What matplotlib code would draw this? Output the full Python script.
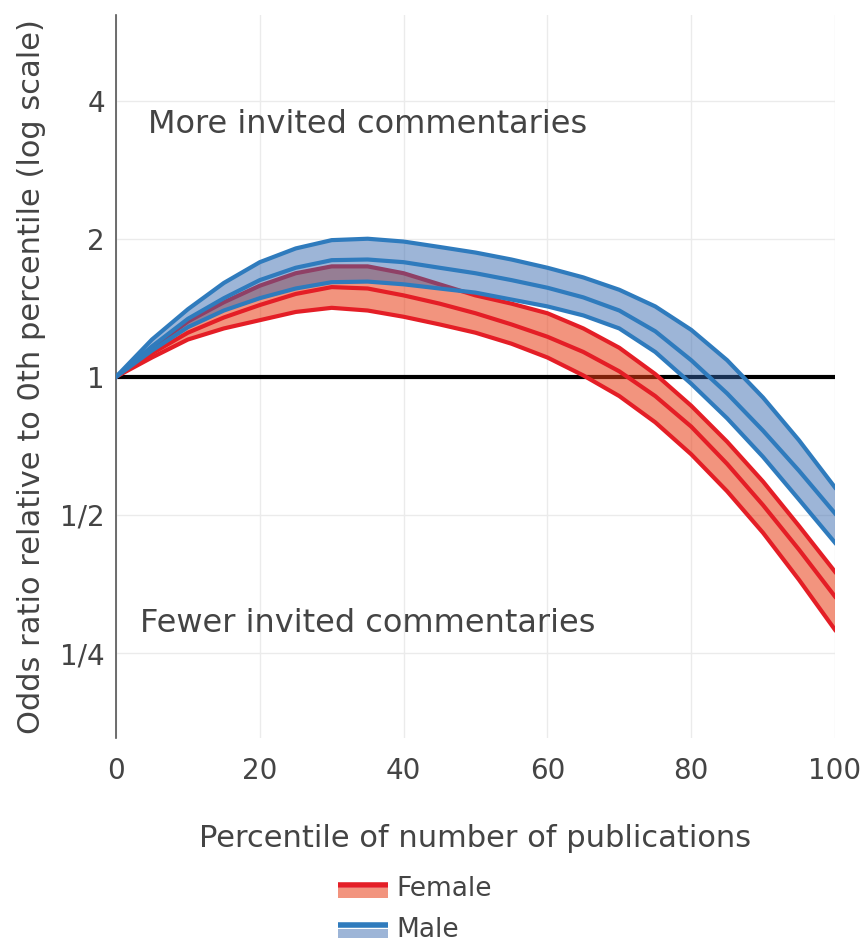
import matplotlib
matplotlib.use("Agg")
import matplotlib.pyplot as plt
from matplotlib.legend_handler import HandlerBase
from matplotlib.lines import Line2D
from matplotlib.patches import Rectangle, Patch

# ---------------------------------------------------------------------
# Data (odds ratio relative to 0th percentile)
# ---------------------------------------------------------------------
PCT = [0, 5, 10, 15, 20, 25, 30, 35, 40, 45, 50,
       55, 60, 65, 70, 75, 80, 85, 90, 95, 100]

FEMALE_UPPER = [1.000, 1.157, 1.320, 1.454, 1.580, 1.682, 1.741, 1.741, 1.682, 1.591, 1.505,
                1.444, 1.376, 1.275, 1.157, 1.014, 0.865, 0.722, 0.591, 0.473, 0.376]
FEMALE_MID = [1.000, 1.125, 1.248, 1.347, 1.434, 1.516, 1.569, 1.558, 1.505, 1.444, 1.376,
              1.301, 1.223, 1.133, 1.028, 0.908, 0.779, 0.646, 0.525, 0.420, 0.332]
FEMALE_LOWER = [1.000, 1.102, 1.206, 1.275, 1.329, 1.385, 1.414, 1.395, 1.352, 1.301, 1.248,
                1.181, 1.102, 1.007, 0.908, 0.796, 0.678, 0.563, 0.457, 0.361, 0.281]

MALE_UPPER = [1.000, 1.206, 1.404, 1.602, 1.778, 1.905, 1.986, 2.000, 1.972, 1.919, 1.866,
              1.802, 1.729, 1.647, 1.548, 1.424, 1.266, 1.087, 0.901, 0.727, 0.574]
MALE_MID = [1.000, 1.165, 1.338, 1.484, 1.625, 1.729, 1.796, 1.802, 1.778, 1.729, 1.682,
            1.625, 1.564, 1.490, 1.395, 1.257, 1.087, 0.920, 0.763, 0.624, 0.504]
MALE_LOWER = [1.000, 1.141, 1.283, 1.395, 1.484, 1.558, 1.608, 1.613, 1.591, 1.558, 1.526,
              1.474, 1.424, 1.361, 1.275, 1.133, 0.966, 0.812, 0.669, 0.540, 0.435]

X_TICKS = [0, 20, 40, 60, 80, 100]
Y_TICKS = [0.25, 0.5, 1, 2, 4]
Y_TICK_LABELS = ["1/4", "1/2", "1", "2", "4"]

SERIES = [
    ("Female", FEMALE_LOWER, FEMALE_MID, FEMALE_UPPER, "#e41e26", (0.91, 0.24, 0.08, 0.55)),
    ("Male", MALE_LOWER, MALE_MID, MALE_UPPER, "#2f7bbd", (0.20, 0.40, 0.68, 0.48)),
]

TEXT = "#444444"
GRID = "#ebebeb"


class BandHandler(HandlerBase):
    """Legend swatch: thick line on top, band fill beneath."""

    def __init__(self, line_color, fill_color):
        super().__init__()
        self.line_color = line_color
        self.fill_color = fill_color

    def create_artists(self, legend, orig_handle, xdescent, ydescent,
                       width, height, fontsize, trans):
        x0, y0 = -xdescent, -ydescent
        rect = Rectangle((x0, y0), width, height * 0.45,
                         facecolor=self.fill_color, edgecolor="none", transform=trans)
        line = Line2D([x0, x0 + width], [y0 + height * 0.6] * 2,
                      color=self.line_color, lw=4, solid_capstyle="butt", transform=trans)
        return [rect, line]


fig = plt.figure(figsize=(8.63, 9.42), dpi=100)
ax = fig.add_axes([116 / 863, 1 - 738 / 942, 719 / 863, 723 / 942])

ax.set_yscale("log", base=2)
ax.set_xlim(0, 100)
ax.set_ylim(2 ** -2.615, 2 ** 2.62)

ax.axhline(1, color="black", lw=3, zorder=1)

handles, labels, handler_map = [], [], {}
for z, (name, lo, mid, hi, lc, fc) in enumerate(SERIES):
    base = 2 + z * 3
    ax.fill_between(PCT, lo, hi, facecolor=fc, edgecolor="none", zorder=base)
    for vals in (lo, mid, hi):
        ax.plot(PCT, vals, color=lc, lw=3.0, solid_joinstyle="round", zorder=base + 1)
    h = Patch(label=name)
    handles.append(h)
    labels.append(name)
    handler_map[h] = BandHandler(lc, fc)

ax.set_xticks(X_TICKS)
ax.set_yticks(Y_TICKS)
ax.set_yticklabels(Y_TICK_LABELS)
ax.minorticks_off()
ax.tick_params(axis="both", length=0, labelsize=20, labelcolor=TEXT)
ax.tick_params(axis="x", pad=14)
ax.tick_params(axis="y", pad=8)

ax.grid(True, color=GRID, lw=1, zorder=0)
for side in ("top", "right", "bottom"):
    ax.spines[side].set_visible(False)
ax.spines["left"].set_color("#555555")
ax.spines["left"].set_linewidth(1.2)
ax.set_axisbelow(True)

ax.set_xlabel("Percentile of number of publications", fontsize=22, color=TEXT, labelpad=28)
ax.set_ylabel("Odds ratio relative to 0th percentile (log scale)", fontsize=22,
              color=TEXT, labelpad=10)

ax.text(4.5, 3.55, "More invited commentaries", fontsize=23, color=TEXT, va="center")
ax.text(3.4, 0.29, "Fewer invited commentaries", fontsize=23, color=TEXT, va="center")

fig.legend(handles, labels, handler_map=handler_map, loc="upper left",
           bbox_to_anchor=(338 / 863, 1 - 876 / 942), frameon=False,
           fontsize=19, labelcolor=TEXT, handlelength=1.9, handleheight=0.9,
           handletextpad=0.3, labelspacing=0.55, borderaxespad=0, borderpad=0)

fig.savefig("out.png", dpi=100)
